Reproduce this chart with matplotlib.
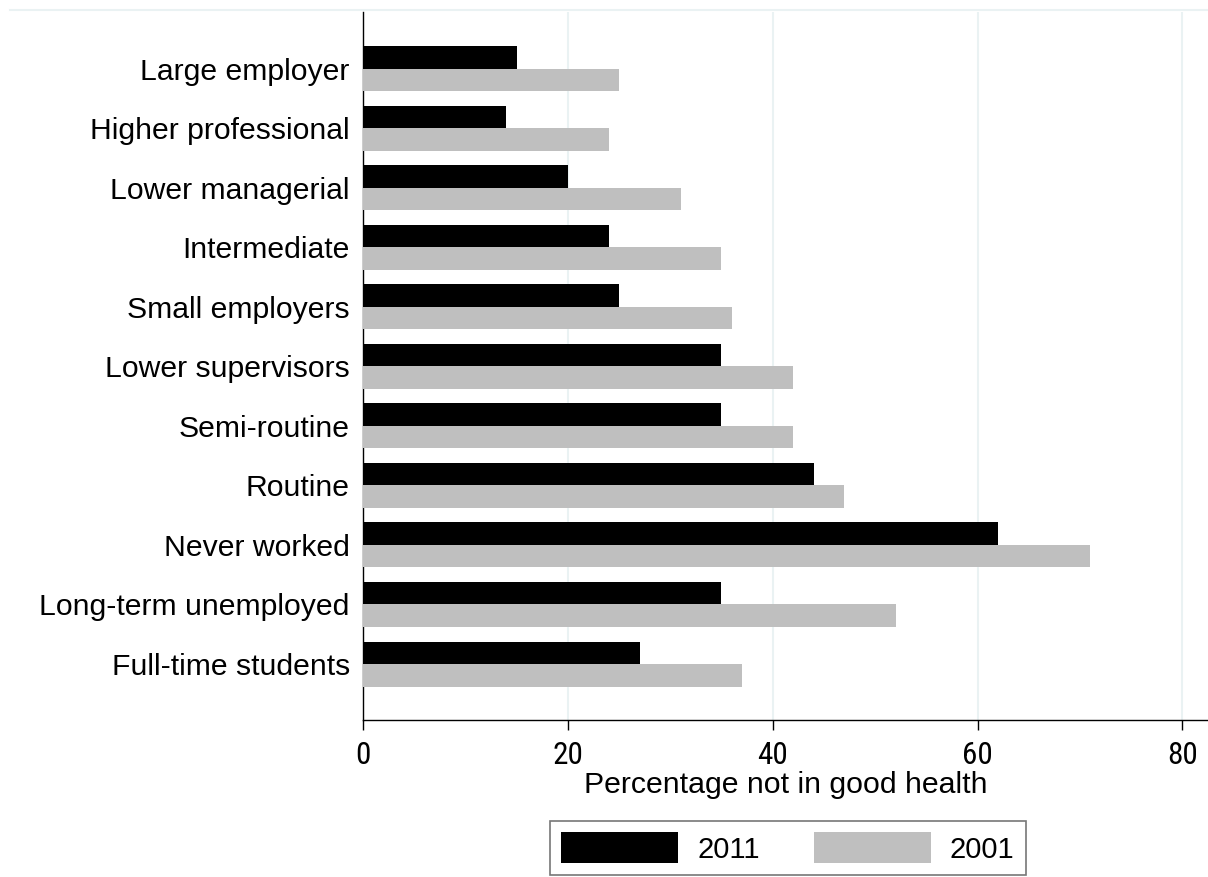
import numpy as np
import matplotlib
matplotlib.use('Agg')
from matplotlib import pyplot as plt
from matplotlib import font_manager as fm
from matplotlib.lines import Line2D

categories = ['Large employer', 'Higher professional', 'Lower managerial', 'Intermediate',
              'Small employers', 'Lower supervisors', 'Semi-routine', 'Routine',
              'Never worked', 'Long-term unemployed', 'Full-time students']
vals_2011 = [15, 14, 20, 24, 25, 35, 35, 44, 62, 35, 27]
vals_2001 = [25, 24, 31, 35, 36, 42, 42, 47, 71, 52, 37]
xticks = [0, 20, 40, 60, 80]

# narrow font for the tick numbers if one is around
names = set(f.name for f in fm.fontManager.ttflist)
tickfont = {'family': 'Liberation Sans'}
for cand in ['Liberation Sans Narrow', 'Arial Narrow', 'Roboto Condensed', 'Open Sans Condensed']:
    if cand in names:
        tickfont = {'family': cand}
        break
else:
    if any(f.name == 'DejaVu Sans' and f.stretch == 'condensed' for f in fm.fontManager.ttflist):
        tickfont = {'family': 'DejaVu Sans', 'stretch': 'condensed'}

plt.rcParams['font.family'] = ['Liberation Sans', 'DejaVu Sans']

fig = plt.figure(figsize=(12.08, 8.77), dpi=100)
ax = fig.add_axes([363/1208, 1-720/877, 1-363/1208, (720-12)/877])

y = np.arange(len(categories))
h = 0.378
ax.barh(y - h/2, vals_2011, height=h, color='black', label='2011', zorder=3)
ax.barh(y + h/2, vals_2001, height=h, color='#bfbfbf', label='2001', zorder=3)

ax.set_ylim(10.94, -0.95)
ax.set_xlim(0, 82.5)
ax.set_yticks(y)
ax.set_yticklabels(categories, fontsize=21.7)
ax.set_xticks(xticks)
ax.set_xticklabels([str(t) for t in xticks], fontsize=22.5, **tickfont)
ax.tick_params(axis='y', length=0, pad=9.5)
ax.tick_params(axis='x', length=7, width=1, pad=8)
ax.grid(axis='x', color='#eaf2f3', linewidth=1.5, zorder=0)

for s in ['top', 'right']:
    ax.spines[s].set_visible(False)
for s in ['left', 'bottom']:
    ax.spines[s].set_linewidth(1)
    ax.spines[s].set_color('black')

# thin frame line across the top
fig.add_artist(Line2D([10/1208, 1], [1-10/877, 1-10/877], color='#eaf2f3', linewidth=1.5))

ax.set_xlabel('Percentage not in good health', fontsize=21.8, labelpad=1)

leg = fig.legend(loc='center', bbox_to_anchor=(788/1208, 1-848/877), ncol=2, fontsize=21,
                 frameon=True, fancybox=False, edgecolor='#555555', handlelength=4.0,
                 handleheight=1.25, handletextpad=0.65, columnspacing=1.88, borderpad=0.4)
leg.get_frame().set_linewidth(1.2)

plt.savefig('out.png', dpi=100)
